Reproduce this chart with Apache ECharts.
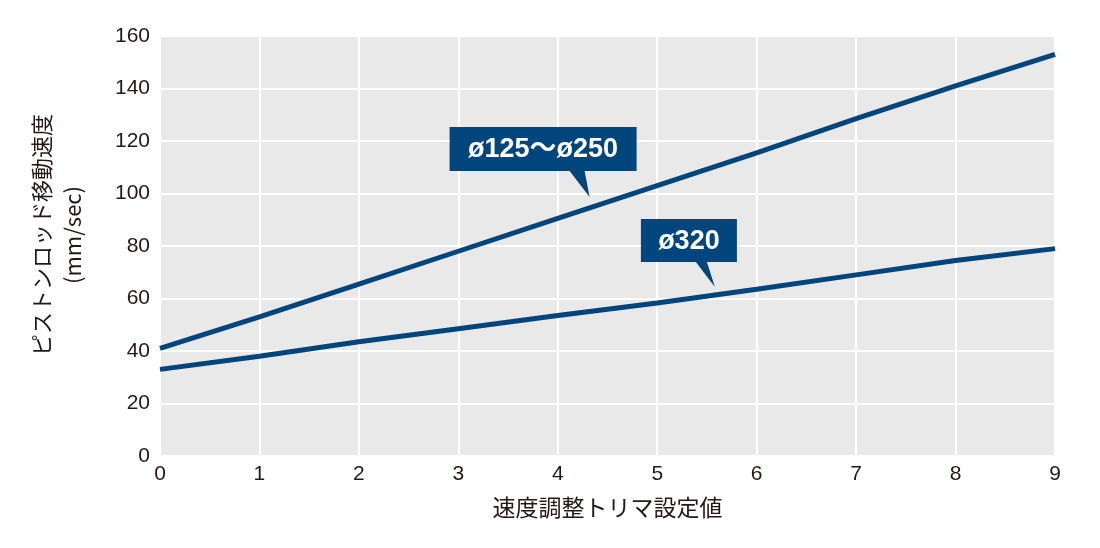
<!DOCTYPE html>
<html>
<head>
<meta charset="utf-8">
<script src="https://cdn.jsdelivr.net/npm/echarts@6/dist/echarts.min.js"></script>
<style>
html,body{margin:0;padding:0;background:#fff;}
#chart{width:1100px;height:548px;}
</style>
</head>
<body>
<div id="chart"></div>
<script>
// ---- data ----
const xValues = [0, 1, 2, 3, 4, 5, 6, 7, 8, 9];
const series125to250 = [41, 53, 65.5, 78, 90.5, 103, 115.5, 128.5, 141, 153];
const series320 = [33, 38, 43.5, 48.5, 53.5, 58.3, 63.5, 69, 74.5, 79];
const yTicks = [0, 20, 40, 60, 80, 100, 120, 140, 160];
const xAxisTitle = '速度調整トリマ設定値';
const yAxisTitle = 'ピストンロッド移動速度\n(mm/sec)';
const calloutLabels = ['ø125〜ø250', 'ø320'];
const calloutAnchorX = [4.32, 5.58];

// ---- layout / style (not data) ----
const LINE_COLOR = '#00457c';
const calloutLayout = [
  {left: -140, right: 47, top: -70, bottom: -26, tailA: -20, tailB: -5, lift: -11},
  {left: -74, right: 22, top: -68, bottom: -25, tailA: -19, tailB: -8, lift: -8}
];

function interp(arr, x) {
  const i = Math.min(Math.floor(x), arr.length - 2);
  const t = x - i;
  return arr[i] + (arr[i + 1] - arr[i]) * t;
}
const seriesArrays = [series125to250, series320];
const calloutData = calloutLabels.map((lab, k) => [calloutAnchorX[k], interp(seriesArrays[k], calloutAnchorX[k]), k]);

const chart = echarts.init(document.getElementById('chart'));
const axisFont = {fontFamily: '"Liberation Sans", Arial, sans-serif', fontSize: 21, color: '#231815'};

chart.setOption({
  animation: false,
  backgroundColor: '#ffffff',
  grid: {left: 160, right: 45, top: 36, bottom: 92, show: true, backgroundColor: '#e9e9e9', borderWidth: 0,
         containLabel: false, outerBoundsMode: 'none'},
  xAxis: {
    type: 'value', min: 0, max: 9, interval: 1,
    axisLine: {show: false}, axisTick: {show: false},
    splitLine: {show: true, lineStyle: {color: '#ffffff', width: 2}},
    axisLabel: Object.assign({margin: 8}, axisFont),
    name: xAxisTitle, nameLocation: 'middle', nameGap: 40,
    nameTextStyle: {fontFamily: '"Noto Sans CJK JP", sans-serif', fontSize: 23, color: '#231815'}
  },
  yAxis: {
    type: 'value', min: 0, max: 160, interval: 20,
    axisLine: {show: false}, axisTick: {show: false},
    splitLine: {show: true, lineStyle: {color: '#ffffff', width: 2}},
    axisLabel: Object.assign({margin: 10, formatter: v => yTicks.includes(v) ? String(v) : ''}, axisFont),
    name: yAxisTitle, nameLocation: 'middle', nameGap: 72, nameRotate: 90,
    nameTextStyle: {fontFamily: '"Noto Sans CJK JP", sans-serif', fontSize: 22, color: '#231815', lineHeight: 31, padding: [0, 0, 0, 22]}
  },
  series: [
    {type: 'line', data: xValues.map((x, i) => [x, series125to250[i]]), symbol: 'none', lineStyle: {color: LINE_COLOR, width: 5}, z: 2},
    {type: 'line', data: xValues.map((x, i) => [x, series320[i]]), symbol: 'none', lineStyle: {color: LINE_COLOR, width: 5}, z: 2},
    {
      type: 'custom', coordinateSystem: 'cartesian2d', data: calloutData, z: 5,
      renderItem: function (params, api) {
        const k = api.value(2);
        const L = calloutLayout[k];
        const p = api.coord([api.value(0), api.value(1)]);
        const tx = p[0], ty = p[1] + L.lift;
        const pts = [
          [tx + L.left, ty + L.top], [tx + L.right, ty + L.top], [tx + L.right, ty + L.bottom],
          [tx + L.tailB, ty + L.bottom], [tx, ty], [tx + L.tailA, ty + L.bottom], [tx + L.left, ty + L.bottom]
        ];
        return {
          type: 'group',
          children: [
            {type: 'polygon', shape: {points: pts}, style: {fill: LINE_COLOR}},
            {type: 'text', style: {
              text: calloutLabels[k], x: tx + (L.left + L.right) / 2, y: ty + (L.top + L.bottom) / 2 + 1,
              fill: '#ffffff', align: 'center', verticalAlign: 'middle',
              font: 'bold 27px "Liberation Sans", Arial, "Noto Sans CJK JP", sans-serif'
            }}
          ]
        };
      }
    }
  ]
});
</script>
</body>
</html>
